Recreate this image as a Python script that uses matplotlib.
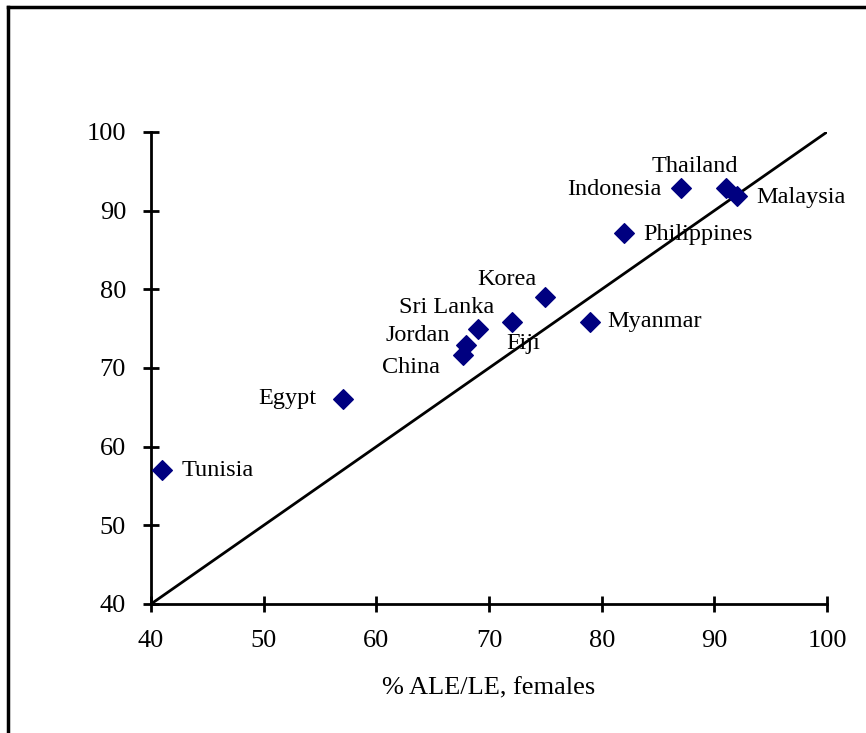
import matplotlib.pyplot as plt
from matplotlib.lines import Line2D

plt.rcParams['font.family'] = ['Liberation Serif', 'DejaVu Serif']

countries = ['Tunisia', 'Egypt', 'China', 'Jordan', 'Sri Lanka', 'Fiji', 'Korea',
             'Myanmar', 'Philippines', 'Indonesia', 'Thailand', 'Malaysia']
ale_females = [41, 57, 67.7, 68, 69, 72, 75, 79, 82, 87, 91, 92]
ale_males = [57, 66.1, 71.6, 72.9, 74.9, 75.9, 79, 75.9, 87.1, 92.9, 92.9, 91.9]

# label offsets in points (dx, dy) and alignment
label_pos = {
    'Tunisia': (14, 0, 'left'),
    'Egypt': (-19, 0, 'right'),
    'China': (-17, -9, 'right'),
    'Jordan': (-12, 7, 'right'),
    'Sri Lanka': (12, 16, 'right'),
    'Fiji': (-4, -16, 'left'),
    'Korea': (-6, 13, 'right'),
    'Myanmar': (12, 0, 'left'),
    'Philippines': (14, -1, 'left'),
    'Indonesia': (-14, -1, 'right'),
    'Thailand': (-22, 15, 'center'),
    'Malaysia': (14, -1, 'left'),
}

fig = plt.figure(figsize=(8.66, 7.33), dpi=100)
ax = fig.add_axes([0.1744, 0.176, 0.7806, 0.644])

ax.plot([40, 100], [40, 100], color='black', lw=2, zorder=2)
ax.scatter(ale_females, ale_males, marker='D', s=100, color='#000080', zorder=3)

for name, x, y in zip(countries, ale_females, ale_males):
    dx, dy, ha = label_pos[name]
    ax.annotate(name, (x, y), xytext=(dx, dy), textcoords='offset points',
                ha=ha, va='center', fontsize=17.5)

ax.set_xlim(40, 100)
ax.set_ylim(40, 100)
ax.set_xticks(range(40, 101, 10))
ax.set_yticks(range(40, 101, 10))
ax.tick_params(direction='inout', length=12, width=2, labelsize=19, pad=12)
ax.tick_params(axis='x', pad=13)
for side in ['top', 'right']:
    ax.spines[side].set_visible(False)
for side in ['left', 'bottom']:
    ax.spines[side].set_linewidth(2)
ax.set_xlabel('% ALE/LE, females', fontsize=19, labelpad=18)

# outer frame (left and top edges visible)
fig.add_artist(Line2D([0.0095, 0.0095], [0, 0.99], transform=fig.transFigure, color='black', lw=2.5))
fig.add_artist(Line2D([0.0095, 1.0], [0.99, 0.99], transform=fig.transFigure, color='black', lw=2.5))

fig.savefig('out.png', dpi=100)
